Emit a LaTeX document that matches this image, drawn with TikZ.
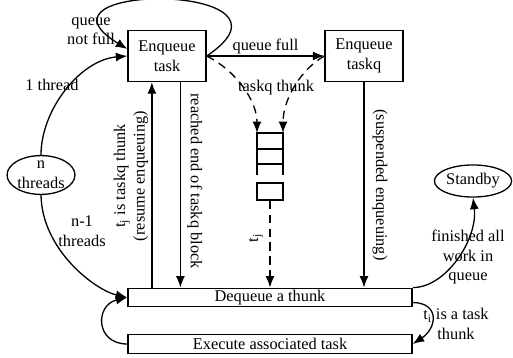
\documentclass[tikz,border=0pt]{standalone}
\usepackage{fontspec}
\setmainfont{Liberation Serif}
\usepackage{tikz}
\usetikzlibrary{arrows.meta,shapes}
\tikzstyle{blk}=[rectangle, draw, line width=0.8pt,% the two enqueue boxes
minimum width=1.68cm, minimum height=1.10cm, align=center]
\tikzstyle{bar}=[rectangle, draw, line width=0.8pt, minimum width=6.11cm,
inner ysep=0pt, minimum height=0.40cm]
\tikzstyle{oval}=[ellipse, draw, line width=0.8pt, inner sep=0pt, align=center]
\tikzstyle{flow}=[-{Latex[length=7pt,width=5.5pt]}, line width=0.8pt]
\tikzstyle{spawn}=[flow, dash pattern=on 5pt off 3.5pt]
\tikzstyle{lbl}=[align=center, inner sep=1pt]

\begin{document}
\begin{tikzpicture}[x=0.0215cm, y=-0.0215cm, line width=0.8pt]
\useasboundingbox (0,0) rectangle (513,358);
\node[blk] (enqT) at (167,56) {Enqueue\\task};
\node[blk] (enqQ) at (364,56) {Enqueue\\taskq};
\node[bar] (deq) at (270,297.5) {Dequeue a thunk};
\node[bar] (exe) at (270,344) {Execute associated task};
\node[oval, minimum width=1.46cm, minimum height=0.75cm] (nthr) at (41,175) {n\\threads};
\node[oval, minimum width=1.66cm, minimum height=0.69cm] (stby) at (473,181) {Standby};

% the taskq queue
\coordinate (qtl) at (257,133);
\coordinate (qtr) at (283,133);
\draw (257,175) -- (qtl) -- (qtr) -- (283,175);
\draw (257,149) -- (283,149);
\draw (257,164) -- (283,164);
\node[rectangle, draw, inner sep=0pt, minimum width=0.56cm, minimum height=0.37cm] (qbot) at (270,191.5) {};

\draw [flow] (enqT.east) -- node[above, lbl] (lfull) {queue full} (enqQ.west);
\draw [flow] (enqT.east) .. controls (317,-18) and (17,-18) .. (enqT.170);
\node[lbl] (lnotfull) at (91,31) {queue\\not full};
\draw [flow] (nthr.north) .. controls (41,110) and (80,60) .. (enqT.west);
\node[lbl] (lone) at (52,85) {1 thread};
\draw [flow] (nthr.south) .. controls (42,250) and (95,290) .. (deq.west);
\node[lbl] (lrest) at (82,231) {n-1\\threads};

\draw [flow] (deq.north -| enqT.240) -- (enqT.240);
\node[lbl, rotate=90] (lresume) at (131,176) {t\textsubscript{j} is taskq thunk\\(resume enqueuing)};
\draw [flow] (enqT.297) -- (enqT.297 |- deq.north);
\node[lbl, rotate=-90] (lend) at (195,181) {reached end of taskq block};
\draw [flow] (enqQ.south) -- (enqQ.south |- deq.north);
\node[lbl, rotate=-90] (lsusp) at (380,185) {(suspended enqueuing)};

\draw [spawn] (enqT.east) .. controls (235,70) and (257,100) .. (qtl);
\draw [spawn] (enqQ.west) .. controls (300,70) and (283,100) .. (qtr);
\node[lbl] (lthunk) at (276,88) {taskq thunk};
\draw [spawn] (qbot.south) -- (deq.north);
\node[lbl, rotate=90] (ltj) at (256,238) {t\textsubscript{j}};

\draw [flow] (deq.north east) .. controls (445,288) and (478,240) .. (stby.south);
\node[lbl] (ldone) at (468,257) {finished all\\work in\\queue};
\draw [flow] (deq.-2) .. controls (440,303) and (437,328) .. (exe.east);
\node[lbl] (ltask) at (456,324) {t\textsubscript{i} is a task\\thunk};
\draw [flow] (exe.west) .. controls (95,344) and (95,305) .. (deq.west);
\end{tikzpicture}
\end{document}
